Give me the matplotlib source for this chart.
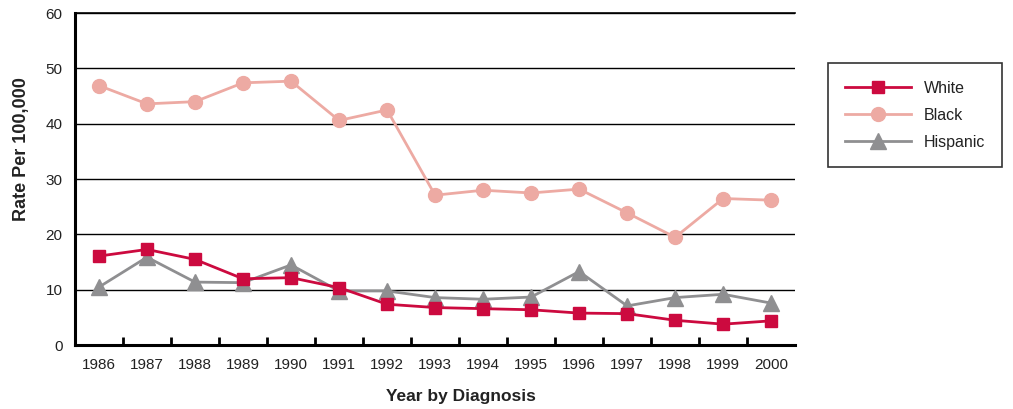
import matplotlib
matplotlib.use('Agg')
import matplotlib.pyplot as plt
from matplotlib.ticker import FixedLocator

plt.rcParams['font.family'] = ['Liberation Sans Narrow', 'Liberation Sans', 'DejaVu Sans']

years = ['1986', '1987', '1988', '1989', '1990', '1991', '1992', '1993',
         '1994', '1995', '1996', '1997', '1998', '1999', '2000']
white = [16.1, 17.3, 15.5, 12.0, 12.2, 10.4, 7.4, 6.8, 6.6, 6.4, 5.8, 5.7, 4.5, 3.8, 4.4]
black = [46.9, 43.6, 44.0, 47.4, 47.7, 40.6, 42.5, 27.1, 28.0, 27.5, 28.2, 23.9, 19.5, 26.5, 26.2]
hispanic = [10.5, 15.9, 11.4, 11.3, 14.5, 9.8, 9.8, 8.6, 8.3, 8.7, 13.3, 7.1, 8.6, 9.2, 7.6]

WHITE_C = '#CC0A3F'
BLACK_C = '#EDAAA3'
HISP_C = '#8F8F91'
TEXT_C = '#222222'

fig = plt.figure(figsize=(10.13, 4.09), dpi=100)
ax = fig.add_axes([0.074, 0.156, 0.711, 0.812])

x = list(range(1, len(years) + 1))
ax.plot(x, white, color=WHITE_C, lw=2, marker='s', ms=9, label='White', zorder=5)
ax.plot(x, black, color=BLACK_C, lw=2, marker='o', ms=10, label='Black', zorder=3)
ax.plot(x, hispanic, color=HISP_C, lw=2, marker='^', ms=11, label='Hispanic', zorder=4)

ax.set_xlim(0.5, len(years) + 0.5)
ax.set_ylim(0, 60)
ax.set_yticks(range(0, 61, 10))
ax.set_xticks(x)
ax.set_xticklabels(years)
ax.xaxis.set_minor_locator(FixedLocator([i + 0.5 for i in range(len(years))]))
ax.tick_params(axis='x', which='major', length=0, labelsize=11, pad=9, labelcolor=TEXT_C)
ax.tick_params(axis='x', which='minor', direction='in', length=6, width=2)
ax.tick_params(axis='y', length=0, labelsize=11, pad=9, labelcolor=TEXT_C)

ax.grid(axis='y', color='black', lw=1, zorder=1)
ax.set_axisbelow(True)
for s in ['top', 'right']:
    ax.spines[s].set_visible(False)
ax.spines['left'].set_linewidth(2.2)
ax.spines['bottom'].set_linewidth(2.2)
ax.axhline(60, color='black', lw=1.2, clip_on=False)

ax.set_ylabel('Rate Per 100,000', fontsize=13, fontweight='bold', color=TEXT_C)
ax.yaxis.set_label_coords(-0.0625, 0.59)
ax.set_xlabel('Year by Diagnosis', fontsize=12.5, fontweight='bold', color=TEXT_C)
ax.xaxis.set_label_coords(0.536, -0.133)

leg = fig.legend(loc='upper left', bbox_to_anchor=(0.817, 0.846), fontsize=11.5,
                 frameon=True, fancybox=False, edgecolor='black', handlelength=4.1,
                 borderpad=1.1, labelspacing=0.75, handletextpad=0.8,
                 borderaxespad=0)
leg.get_frame().set_linewidth(1.2)
for t in leg.get_texts():
    t.set_color(TEXT_C)

fig.savefig('out.png', dpi=100, facecolor='white')
